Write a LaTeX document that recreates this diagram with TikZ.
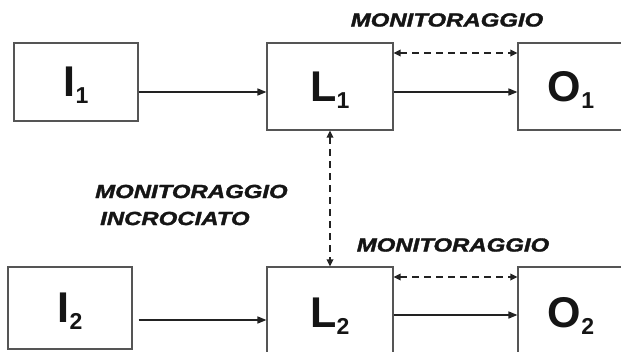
\documentclass[tikz,border=0pt]{standalone}
\usepackage{fontspec}
\setmainfont{Liberation Sans}
\newfontface\monface[RawFeature={embolden=1.5}]{Liberation Sans Bold Italic}
\usepackage{graphicx}
\usetikzlibrary{arrows.meta}
\definecolor{boxgray}{HTML}{555555}
\definecolor{arrgray}{HTML}{222222}
\definecolor{txt}{HTML}{151515}
\newcommand\sbs[1]{\raisebox{-7pt}[0pt][0pt]{\fontsize{23}{23}\selectfont #1}}
\newcommand\wideTxt[1]{\scalebox{1.26}[1]{#1}}
\tikzset{
 box/.style={draw=boxgray, line width=1.1pt, minimum width=126pt, minimum height=87pt, inner sep=0pt, font=\fontsize{43}{43}\selectfont\bfseries, text=txt},
 arr/.style={line width=1.5pt, draw=arrgray, -{Triangle[length=9pt,width=7pt]}},
 darr/.style={line width=1.7pt, draw=arrgray, {Triangle[length=7pt,width=6.5pt]}-{Triangle[length=7pt,width=6.5pt]}, dash pattern=on 7pt off 5pt},
 mon/.style={font=\fontsize{19}{27}\selectfont\monface, text=txt, inner sep=0pt}
}
\begin{document}
\begin{tikzpicture}[x=1pt,y=-1pt]
\useasboundingbox (0,0) rectangle (621,351);
\clip (0,0) rectangle (621,351);
\fill[white] (0,0) rectangle (621,351);
\node[box, minimum width=124pt, minimum height=78pt] (I1) at (76,82) {I\sbs{1}};
\node[box] (L1) at (330,86.5) {L\sbs{1}};
\node[box, minimum width=106pt] (O1) at (571,86.5) {O\sbs{1}};
\node[box, minimum width=124pt, minimum height=82pt] (I2) at (70,308) {I\sbs{2}};
\node[box, minimum height=92pt] (L2) at (330,313) {L\sbs{2}};
\node[box, minimum width=106pt, minimum height=92pt] (O2) at (571,313) {O\sbs{2}};
\draw[arr] (I1.east |- 0,92) -- (L1.west |- 0,92);
\draw[arr] (L1.east |- 0,92) -- (O1.west |- 0,92);
\draw[darr] (L1.east |- 0,53) -- (O1.west |- 0,53);
\draw[arr] ([xshift=6pt]I2.east |- 0,320) -- (L2.west |- 0,320);
\draw[arr] (L2.east |- 0,315) -- (O2.west |- 0,315);
\draw[darr] (L2.east |- 0,277) -- (O2.west |- 0,277);
\draw[darr] (L1.south) -- (L2.north);
\node[mon] (m1) at (447,20) {\wideTxt{MONITORAGGIO}};
\node[mon] (m2) at (453,245) {\wideTxt{MONITORAGGIO}};
\node[mon, align=left, anchor=west] (m3) at (95,205) {\wideTxt{MONITORAGGIO}\\\hspace*{5pt}\wideTxt{INCROCIATO}};
\end{tikzpicture}
\end{document}
